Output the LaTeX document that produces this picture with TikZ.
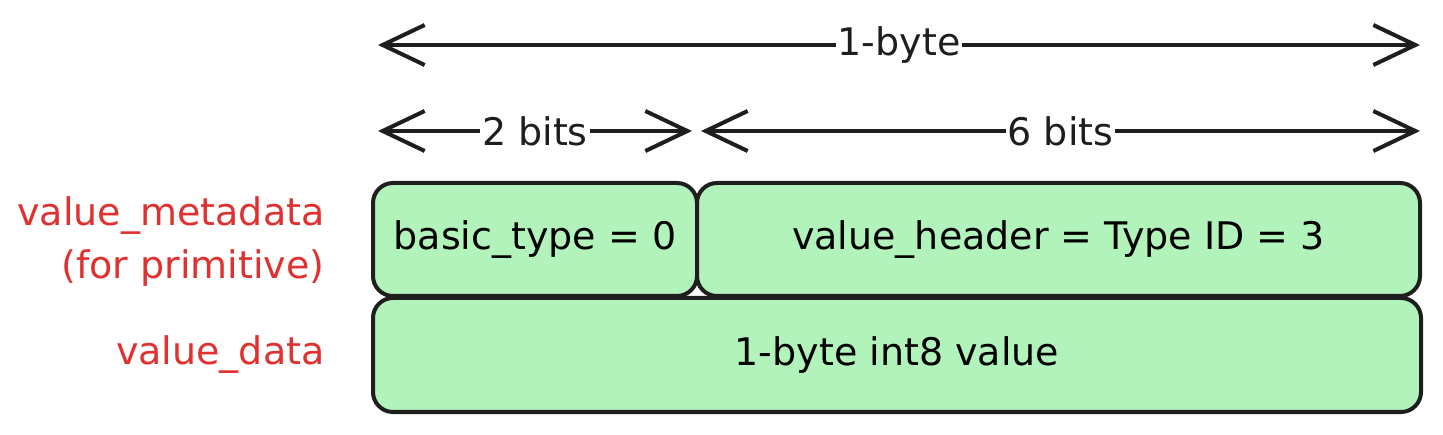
\documentclass[tikz,border=0pt]{standalone}
\usepackage{fontspec}
\setmainfont{DejaVu Sans}
\usetikzlibrary{arrows.meta}
\definecolor{boxgreen}{HTML}{B2F2BB}
\definecolor{inkdark}{HTML}{1E1E1E}
\definecolor{labelred}{HTML}{E03131}
\tikzset{
  field/.style={draw=inkdark, fill=boxgreen, line width=4pt, rounded corners=20pt, inner sep=0pt, font=\fontsize{38}{46}\selectfont},
  span/.style={draw=inkdark, line width=4pt, {Straight Barb[length=42pt,width=40pt,line width=4pt]}-{Straight Barb[length=42pt,width=40pt,line width=4pt]}},
  spantext/.style={fill=white, inner sep=2pt, font=\fontsize{38}{46}\selectfont, text=inkdark},
  rowlabel/.style={text=labelred, align=right, anchor=east, font=\fontsize{38}{53}\selectfont}
}
\begin{document}
\begin{tikzpicture}[x=1pt, y=-1pt]
\useasboundingbox (0,0) rectangle (1443,435);

% width arrows
\coordinate (byteL) at (378,45);
\coordinate (byteR) at (1420,45);
\draw[span] (byteL) -- node[spantext] {1-byte} (byteR);

\coordinate (twoL) at (378,131);
\coordinate (twoR) at (692,131);
\draw[span] (twoL) -- node[spantext] {2 bits} (twoR);

\coordinate (sixL) at (701,131);
\coordinate (sixR) at (1420,131);
\draw[span] (sixL) -- node[spantext] {6 bits} (sixR);

% fields
\node[field, minimum width=324pt, minimum height=113pt] (basic) at (535,239.5) {basic\_type = 0};
\node[field, minimum width=723pt, minimum height=113pt] (header) at (1058.5,239.5) {value\_header = Type ID = 3};
\node[field, minimum width=1048pt, minimum height=114pt] (data) at (897,355) {1-byte int8 value};

% row labels
\node[rowlabel] (metaLabel) at (328,242) {value\_metadata\\(for primitive)};
\node[rowlabel] (dataLabel) at (328,355) {value\_data};
\end{tikzpicture}
\end{document}
